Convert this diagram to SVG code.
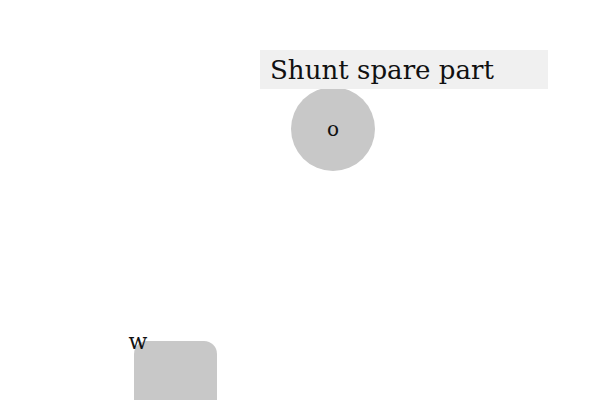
<svg xmlns="http://www.w3.org/2000/svg" width="600" height="400" viewBox="0 0 600 400">
<style>
.node{fill:#c8c8c8}
.t{font-family:"DejaVu Serif","Liberation Serif",serif;fill:#111}
</style>
<rect width="600" height="400" fill="#fff"/>
<g id="connectors"></g>
<g id="node-o">
<circle class="node" cx="333" cy="129" r="42"/>
<text class="t" x="333" y="136" font-size="20" text-anchor="middle">o</text>
</g>
<g id="label-shunt">
<rect x="260" y="50" width="288" height="39" fill="#f0f0f0"/>
<text class="t" x="270" y="79" font-size="26" textLength="224" lengthAdjust="spacingAndGlyphs">Shunt spare part</text>
</g>
<g id="node-w">
<rect class="node" x="134" y="341" width="83" height="80" rx="13"/>
<text class="t" x="138" y="349" font-size="22" text-anchor="middle">w</text>
</g>
</svg>
